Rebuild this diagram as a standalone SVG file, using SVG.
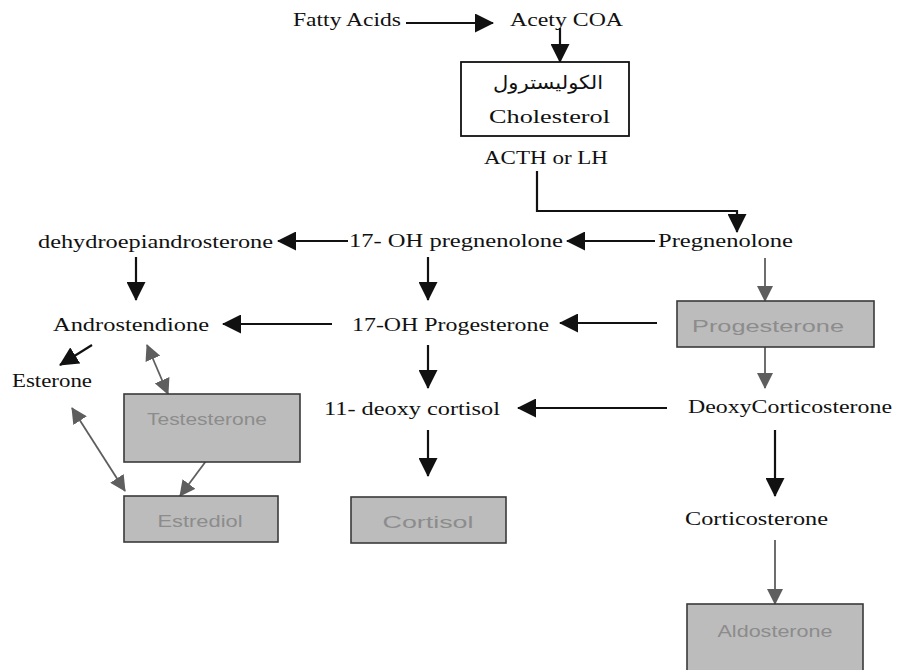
<svg xmlns="http://www.w3.org/2000/svg" width="897" height="670" viewBox="0 0 897 670">
  <style>
    .lbl { font-family: "Liberation Serif", "Times New Roman", serif; font-size: 19.5px; fill: #111; }
    .box { fill: #bcbcbc; stroke: #3a3a3a; stroke-width: 1.6; }
    .plain { fill: #ffffff; stroke: #111; stroke-width: 1.8; }
    .btxt { font-family: "Liberation Sans", Arial, sans-serif; font-size: 17px; fill: #8c8c8c; text-anchor: middle; }
    .blk { stroke: #111; stroke-width: 2.2; fill: none; }
    .gry { stroke: #5e5e5e; stroke-width: 1.8; fill: none; }
  </style>
  <defs>
    <marker id="ahB" markerUnits="userSpaceOnUse" markerWidth="19" markerHeight="19" viewBox="0 0 19 19" refX="18" refY="9.5" orient="auto-start-reverse">
      <path d="M0,0 L19,9.5 L0,19 z" fill="#111"/>
    </marker>
    <marker id="ahG" markerUnits="userSpaceOnUse" markerWidth="16" markerHeight="16" viewBox="0 0 16 16" refX="15" refY="8" orient="auto-start-reverse">
      <path d="M0,0 L16,8 L0,16 z" fill="#5e5e5e"/>
    </marker>
  </defs>

  <rect width="897" height="670" fill="#ffffff"/>

  <!-- connectors -->
  <g id="connectors">
    <line class="blk" x1="406" y1="23" x2="493" y2="23" marker-end="url(#ahB)"/>
    <line class="blk" x1="560" y1="28" x2="560" y2="62" marker-end="url(#ahB)"/>
    <polyline class="blk" points="537,171 537,211 737,211 737,232" marker-end="url(#ahB)"/>
    <line class="blk" x1="655" y1="241" x2="567" y2="241" marker-end="url(#ahB)"/>
    <line class="blk" x1="348" y1="241" x2="278" y2="241" marker-end="url(#ahB)"/>
    <line class="blk" x1="136" y1="257" x2="136" y2="300" marker-end="url(#ahB)"/>
    <line class="blk" x1="428" y1="257" x2="428" y2="300" marker-end="url(#ahB)"/>
    <line class="gry" x1="765" y1="258" x2="765" y2="301" marker-end="url(#ahG)"/>
    <line class="blk" x1="332" y1="324" x2="223" y2="324" marker-end="url(#ahB)"/>
    <line class="blk" x1="657" y1="323" x2="560" y2="323" marker-end="url(#ahB)"/>
    <line class="blk" x1="92" y1="345" x2="60" y2="365" marker-end="url(#ahB)"/>
    <line class="gry" x1="147" y1="345" x2="168" y2="394" marker-start="url(#ahG)" marker-end="url(#ahG)"/>
    <line class="blk" x1="428" y1="345" x2="428" y2="388" marker-end="url(#ahB)"/>
    <line class="gry" x1="765" y1="347" x2="765" y2="388" marker-end="url(#ahG)"/>
    <line class="blk" x1="667" y1="408" x2="518" y2="408" marker-end="url(#ahB)"/>
    <line class="gry" x1="72" y1="408" x2="125" y2="491" marker-start="url(#ahG)" marker-end="url(#ahG)"/>
    <line class="gry" x1="212" y1="453" x2="180" y2="496" marker-end="url(#ahG)"/>
    <line class="blk" x1="428" y1="430" x2="428" y2="476" marker-end="url(#ahB)"/>
    <line class="blk" x1="775" y1="430" x2="775" y2="496" marker-end="url(#ahB)"/>
    <line class="gry" x1="775" y1="540" x2="775" y2="604" marker-end="url(#ahG)"/>
  </g>

  <g id="fatty-acids"><text class="lbl" x="293" y="26" textLength="108" lengthAdjust="spacingAndGlyphs">Fatty Acids</text></g>
  <g id="acetyl-coa"><text class="lbl" x="510" y="26" textLength="113" lengthAdjust="spacingAndGlyphs">Acety COA</text></g>

  <g id="cholesterol">
    <rect class="plain" x="461" y="62" width="168" height="74"/>
    <text x="548" y="89" text-anchor="middle" font-family="'DejaVu Sans', 'Noto Sans', sans-serif" font-size="19" fill="#111" textLength="110" lengthAdjust="spacingAndGlyphs">الكوليسترول</text>
    <text class="lbl" x="489" y="123" textLength="121" lengthAdjust="spacingAndGlyphs">Cholesterol</text>
  </g>

  <g id="acth"><text class="lbl" x="484" y="164" textLength="124" lengthAdjust="spacingAndGlyphs">ACTH or LH</text></g>

  <g id="pregnenolone"><text class="lbl" x="658" y="247" textLength="135" lengthAdjust="spacingAndGlyphs">Pregnenolone</text></g>
  <g id="oh-pregnenolone"><text class="lbl" x="349" y="247" textLength="214" lengthAdjust="spacingAndGlyphs">17- OH pregnenolone</text></g>
  <g id="dhea"><text class="lbl" x="38" y="248" textLength="235" lengthAdjust="spacingAndGlyphs">dehydroepiandrosterone</text></g>

  <g id="androstenedione"><text class="lbl" x="53" y="331" textLength="156" lengthAdjust="spacingAndGlyphs">Androstendione</text></g>
  <g id="oh-progesterone"><text class="lbl" x="352" y="331" textLength="197" lengthAdjust="spacingAndGlyphs">17-OH Progesterone</text></g>

  <g id="progesterone">
    <rect class="box" x="677" y="301" width="197" height="46"/>
    <text class="btxt" x="768" y="332" textLength="152" lengthAdjust="spacingAndGlyphs">Progesterone</text>
  </g>

  <g id="esterone"><text class="lbl" x="12" y="387" textLength="80" lengthAdjust="spacingAndGlyphs">Esterone</text></g>

  <g id="testosterone">
    <rect class="box" x="124" y="394" width="176" height="68"/>
    <text class="btxt" x="207" y="425" textLength="120" lengthAdjust="spacingAndGlyphs">Testesterone</text>
  </g>

  <g id="deoxycortisol"><text class="lbl" x="324" y="415" textLength="176" lengthAdjust="spacingAndGlyphs">11- deoxy cortisol</text></g>
  <g id="deoxycorticosterone"><text class="lbl" x="688" y="413" textLength="204" lengthAdjust="spacingAndGlyphs">DeoxyCorticosterone</text></g>

  <g id="estradiol">
    <rect class="box" x="124" y="496" width="154" height="46"/>
    <text class="btxt" x="200" y="527" textLength="85" lengthAdjust="spacingAndGlyphs">Estrediol</text>
  </g>

  <g id="cortisol">
    <rect class="box" x="351" y="497" width="155" height="46"/>
    <text class="btxt" x="428" y="528" textLength="91" lengthAdjust="spacingAndGlyphs">Cortisol</text>
  </g>

  <g id="corticosterone"><text class="lbl" x="685" y="525" textLength="143" lengthAdjust="spacingAndGlyphs">Corticosterone</text></g>

  <g id="aldosterone">
    <rect class="box" x="687" y="604" width="176" height="80"/>
    <text class="btxt" x="775" y="637" textLength="115" lengthAdjust="spacingAndGlyphs">Aldosterone</text>
  </g>
</svg>
